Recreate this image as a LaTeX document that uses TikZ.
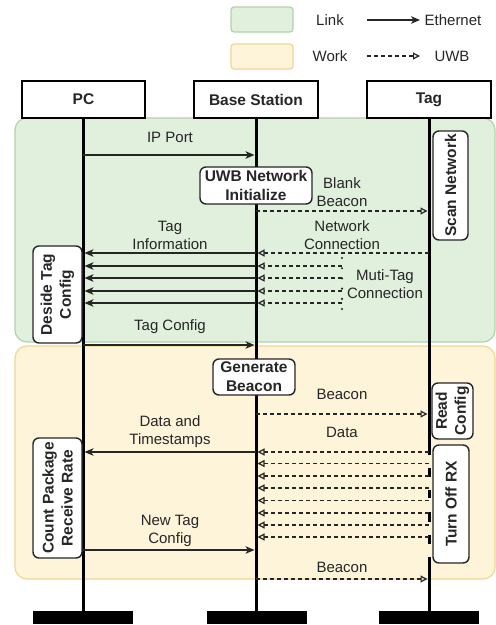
\documentclass[tikz,border=0pt]{standalone}
\usepackage{fontspec}
\setmainfont{Liberation Sans}
\usetikzlibrary{arrows.meta}

\definecolor{linkfill}{RGB}{225,239,221}
\definecolor{linkdraw}{RGB}{176,212,170}
\definecolor{workfill}{RGB}{253,244,217}
\definecolor{workdraw}{RGB}{238,214,150}
\definecolor{ink}{RGB}{38,38,38}

\tikzset{
  lbl/.style={font=\fontsize{15}{18}\selectfont, text=ink, align=center, inner sep=0pt},
  head/.style={draw=black, line width=1.2pt, fill=white, minimum width=123pt,
    minimum height=37pt, inner sep=0pt, font=\bfseries\fontsize{15.5}{18}\selectfont, text=ink},
  act/.style={draw=ink, line width=1.4pt, fill=white, rounded corners=6pt,
    font=\bfseries\fontsize{15.5}{19}\selectfont, text=ink, align=center, inner sep=0pt},
  region/.style={line width=1.2pt, rounded corners=12pt},
  swatch/.style={line width=1.2pt, rounded corners=3pt},
  life/.style={line width=3pt, black},
  bar/.style={fill=black, minimum width=100pt, minimum height=13pt, inner sep=0pt},
  eth/.style={line width=1.3pt, draw=ink, shorten >=1.5pt,
    -{Stealth[length=9pt,width=7.5pt,inset=2.5pt]}},
  uwb/.style={line width=1.3pt, draw=ink, dash pattern=on 4pt off 3pt, shorten >=1.5pt,
    -{Triangle[open,length=7pt,width=7pt,line width=1.2pt]}},
}

\begin{document}
\begin{tikzpicture}[x=1pt,y=-1pt]
\useasboundingbox (0,0) rectangle (496,625);

% legend
\draw[swatch, draw=linkdraw, fill=linkfill] (231,7) rectangle (293,32);
\draw[swatch, draw=workdraw, fill=workfill] (231,44) rectangle (293,69);
\node[lbl] (lg-link) at (330,20) {Link};
\node[lbl] (lg-work) at (330,56) {Work};
\node[lbl] (lg-eth) at (453,20) {Ethernet};
\node[lbl] (lg-uwb) at (452,56) {UWB};
\coordinate (lg-e1) at (367,20);
\coordinate (lg-e2) at (421.5,20);
\coordinate (lg-u1) at (367,56);
\coordinate (lg-u2) at (421.5,56);
\draw[eth] (lg-e1) -- (lg-e2);
\draw[uwb] (lg-u1) -- (lg-u2);

% phase regions
\draw[region, draw=linkdraw, fill=linkfill] (15,118) rectangle (495,342);
\draw[region, draw=workdraw, fill=workfill] (15,346) rectangle (495,579);

% participants
\node[head] (pc) at (83.5,99.5) {PC};
\node[head, minimum width=124pt] (bs) at (256,99.5) {Base Station};
\node[head, minimum width=124pt] (tg) at (429,99.5) {Tag};

\node[bar] (pc-end) at (83,617.5) {};
\node[bar] (bs-end) at (256.5,617.5) {};
\node[bar] (tg-end) at (428.5,617.5) {};

% lifelines
\coordinate (pc-top) at (83,118);
\coordinate (bs-top) at (256,118);
\coordinate (tg-top) at (429,118);
\coordinate (tg-off) at (429,455);
\coordinate (tg-on) at (429,557);
\draw[life] (pc-top) -- (pc-end.north -| pc-top);
\draw[life] (bs-top) -- (bs-end.north -| bs-top);
\draw[life] (tg-top) -- (tg-off);
\draw[life] (tg-on) -- (tg-end.north -| tg-on);
\foreach \k/\a/\b in {1/468/477, 2/490/498, 3/512/522, 4/535/544} {
  \coordinate (tg-s\k) at (429,\a);
  \coordinate (tg-t\k) at (429,\b);
  \draw[life] (tg-s\k) -- (tg-t\k);
}

% message anchors on the lifelines
\foreach \n/\y in {ip/155, bb/211, nc/253, m1/266, m2/278, m3/291, m4/303,
                   tc/345, bc/414, d0/452, d1/463.5, d2/476, d3/488, d4/500.5,
                   d5/513, d6/525, d7/537, nt/550, b2/579} {
  \coordinate (pc-\n) at (83,\y);
  \coordinate (bs-\n) at (256,\y);
  \coordinate (tg-\n) at (429,\y);
  \coordinate (mt-\n) at (342,\y);
}

% link phase
\draw[eth] (pc-ip) -- (bs-ip);
\node[lbl] (l-ip) at (170,137) {IP Port};
\draw[uwb] (bs-bb) -- (tg-bb);
\node[lbl] (l-bb) at (342,192) {Blank\\Beacon};
\draw[uwb] (tg-nc) -- (bs-nc);
\node[lbl] (l-nc) at (342,235) {Network\\Connection};
\draw[eth] (bs-nc) -- (pc-nc);
\node[lbl] (l-ti) at (170,235.5) {Tag\\Information};
\foreach \n in {m1,m2,m3,m4} {
  \draw[eth] (bs-\n) -- (pc-\n);
  \draw[uwb] (mt-\n) -- (bs-\n);
}
\coordinate (dots-a) at (342,258);
\coordinate (dots-b) at (342,309);
\draw[ink, line width=2.4pt, line cap=round, dash pattern=on 0pt off 10.2pt] (dots-a) -- (dots-b);
\node[lbl] (l-mt) at (385,284.5) {Muti-Tag\\Connection};
\draw[eth] (pc-tc) -- (bs-tc);
\node[lbl] (l-tc) at (170,327) {Tag Config};

% work phase
\draw[uwb] (bs-bc) -- (tg-bc);
\node[lbl] (l-bc) at (342,394) {Beacon};
\node[lbl] (l-da) at (342,432) {Data};
\draw[eth] (bs-d0) -- (pc-d0);
\node[lbl] (l-dt) at (170,432) {Data and\\Timestamps};
\foreach \n in {d0,d1,d2,d3,d4,d5,d6,d7} {
  \draw[uwb] (tg-\n) -- (bs-\n);
}
\draw[eth] (pc-nt) -- (bs-nt);
\node[lbl] (l-nt) at (170,531) {New Tag\\Config};
\draw[uwb] (bs-b2) -- (tg-b2);
\node[lbl] (l-b2) at (342,567) {Beacon};

% activities
\node[act, minimum width=112pt, minimum height=37pt] (init) at (256,185.5) {UWB Network\\Initialize};
\node[act, minimum width=82pt, minimum height=36pt] (gen) at (254,377) {Generate\\Beacon};
\node[act, rotate=90, minimum width=109pt, minimum height=35pt] (scan) at (450.5,185.5) {Scan Network};
\node[act, rotate=90, minimum width=97pt, minimum height=49pt] (decide) at (57.5,294.5) {Deside Tag\\Config};
\node[act, rotate=90, minimum width=56pt, minimum height=41pt] (read) at (452.5,411) {Read\\Config};
\node[act, rotate=90, minimum width=118pt, minimum height=36pt] (off) at (451,504) {Turn Off RX};
\node[act, rotate=90, minimum width=120pt, minimum height=49pt] (count) at (57.5,498) {Count Package\\Receive Rate};
\end{tikzpicture}
\end{document}
